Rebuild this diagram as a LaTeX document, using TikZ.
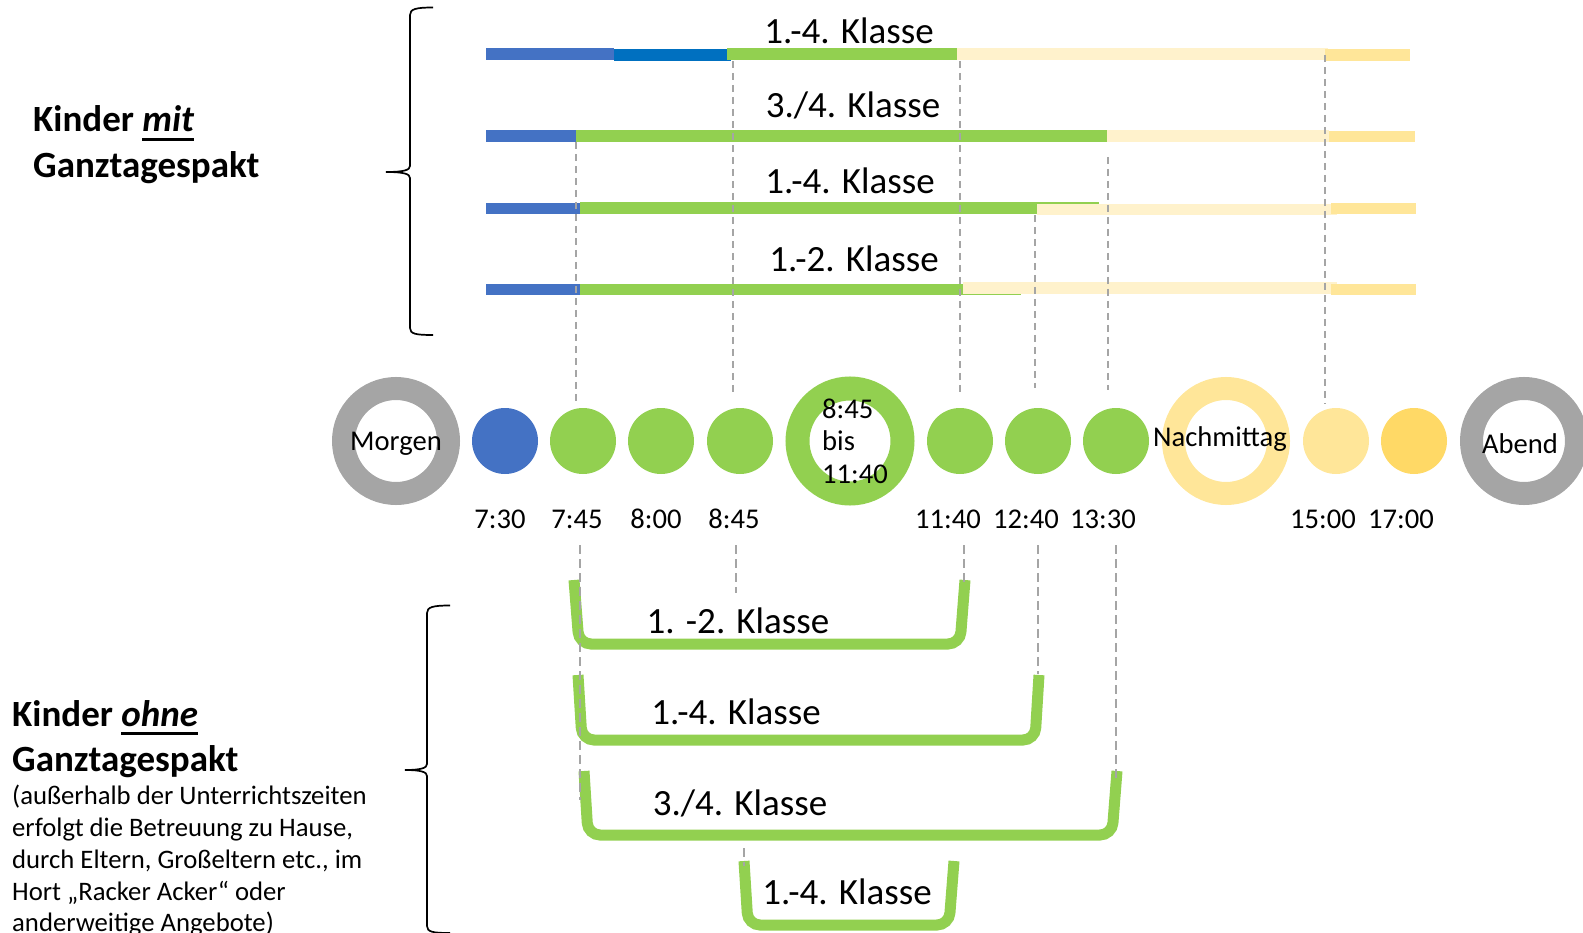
\documentclass[tikz,border=0pt]{standalone}
\usepackage{fontspec}
\setmainfont{Carlito}
\definecolor{cblue}{HTML}{4472C4}
\definecolor{cdblue}{HTML}{0070C0}
\definecolor{cgreen}{HTML}{92D050}
\definecolor{clyel}{HTML}{FFF2CC}
\definecolor{cyel}{HTML}{FFE699}
\definecolor{cgold}{HTML}{FFD966}
\definecolor{cgray}{HTML}{A5A5A5}
\newcommand\myul[1]{\setbox0\hbox{#1}\rlap{\rule[-9pt]{\wd0}{2.7pt}}\box0}
\newcommand\fsBig{\fontsize{37}{44}\selectfont}
\newcommand\fsMid{\fontsize{28.6}{34}\selectfont}
\newcommand\fsSmall{\fontsize{26.7}{31.6}\selectfont}
\begin{document}
\begin{tikzpicture}[x=1pt,y=-1pt,
  klasse/.style={font=\fsBig, inner sep=0pt, anchor=base},
  tlbl/.style={font=\fsMid, inner sep=0pt, anchor=base},
  head/.style={font=\fsBig\bfseries, inner sep=0pt, anchor=base west},
  note/.style={font=\fsSmall, inner sep=0pt, anchor=base west},
  dot/.style={circle, inner sep=0pt, minimum size=66pt},
  ring/.style={circle, inner sep=0pt, minimum size=105pt, line width=23pt},
  guide/.style={draw=cgray, line width=1.6pt, dash pattern=on 7pt off 5pt},
  lguide/.style={draw=cgray, line width=1.4pt, dash pattern=on 9pt off 5pt},
  tray/.style={draw=cgreen, line width=11pt, rounded corners=12pt},
  brc/.style={draw=black, line width=1.7pt}
]
\useasboundingbox (0,0) rectangle (1583,933);
\clip (0,0) rectangle (1583,933);

% ---------- top bars ----------
% row 1
\fill[cblue]  (486,48) rectangle (614,60);
\fill[cdblue] (614,49.5) rectangle (731,61);
\fill[cgreen] (727,48) rectangle (957,60);
\fill[clyel]  (957,48) rectangle (1328,60);
\fill[cyel]   (1325,49) rectangle (1410,61);
% row 2
\fill[cblue]  (486,130) rectangle (576,142);
\fill[cgreen] (576,130) rectangle (1107,142);
\fill[clyel]  (1107,130) rectangle (1329,142);
\fill[cyel]   (1329,131) rectangle (1415,142.5);
% row 3
\fill[cblue]  (486,203) rectangle (580,214);
\fill[cgreen] (580,202) rectangle (1099,214);
\fill[clyel]  (1037,204) rectangle (1337,215.5);
\fill[cyel]   (1331,203) rectangle (1416,214.5);
% row 4
\fill[cblue]  (486,284) rectangle (580,295);
\fill[cgreen] (580,284) rectangle (1021,295.5);
\fill[clyel]  (963,282.5) rectangle (1337,294.5);
\fill[cyel]   (1331,284) rectangle (1416,295.5);

\node[klasse] (k1) at (849,44) {1.-4. Klasse};
\node[klasse] (k2) at (853,118) {3./4. Klasse};
\node[klasse] (k3) at (850,194) {1.-4. Klasse};
\node[klasse] (k4) at (854,272) {1.-2. Klasse};

% ---------- circles ----------
\node[ring, draw=cgray] (morgen) at (396,441) {};
\node[dot, fill=cblue] (c730) at (505,441) {};
\node[dot, fill=cgreen] (c745) at (583,441) {};
\node[dot, fill=cgreen] (c800) at (661,441) {};
\node[dot, fill=cgreen] (c845) at (740,441) {};
\node[ring, draw=cgreen, line width=24pt] (unt) at (850,441) {};
\node[dot, fill=cgreen] (c1140) at (960,441) {};
\node[dot, fill=cgreen] (c1240) at (1038,441) {};
\node[dot, fill=cgreen] (c1330) at (1116,441) {};
\node[ring, draw=cyel] (nachm) at (1226,441) {};
\node[dot, fill=cyel] (c1500) at (1336,441) {};
\node[dot, fill=cgold] (c1700) at (1414,441) {};
\node[ring, draw=cgray] (abend) at (1524,441) {};

\node[tlbl] (lmorgen) at (396,450) {Morgen};
\node[tlbl] (lnachm) at (1220,446) {Nachmittag};
\node[tlbl] (labend) at (1520,453) {Abend};
\node[tlbl, anchor=base west] (lu1) at (822,418) {8:45};
\node[tlbl, anchor=base west] (lu2) at (822,450) {bis};
\node[tlbl, anchor=base west] (lu3) at (822,483) {11:40};

\node[tlbl] (t1) at (500,528) {7:30};
\node[tlbl] (t2) at (577,528) {7:45};
\node[tlbl] (t3) at (656,528) {8:00};
\node[tlbl] (t4) at (734,528) {8:45};
\node[tlbl] (t5) at (948,528) {11:40};
\node[tlbl] (t6) at (1026,528) {12:40};
\node[tlbl] (t7) at (1103,528) {13:30};
\node[tlbl] (t8) at (1323,528) {15:00};
\node[tlbl] (t9) at (1401,528) {17:00};

% ---------- top guides ----------
\draw[guide] (576,142) -- (576,404);
\draw[guide] (733,61) -- (733,394);
\draw[guide] (960,61) -- (960,392);
\draw[guide] (1035,215) -- (1035,388);
\draw[guide] (1108,157) -- (1108,390);
\draw[guide] (1325,55) -- (1325,404);

% ---------- brackets ----------
\draw[tray] (574,580) -- (579,644) -- (960,644) -- (965,580);
\draw[tray] (578,675) -- (582,740) -- (1035,740) -- (1039,675);
\draw[tray] (584,771) -- (588,835) -- (1112,835) -- (1117,771);
\draw[tray] (744,861) -- (748,925) -- (949,925) -- (954,861);

\node[klasse] (b1) at (738,633) {1. -2. Klasse};
\node[klasse] (b2) at (736,724) {1.-4. Klasse};
\node[klasse] (b3) at (740,815) {3./4. Klasse};
\node[klasse] (b4) at (847,904) {1.-4. Klasse};

% ---------- lower guides ----------
\draw[lguide] (580,545) -- (580,800);
\draw[lguide] (736,545) -- (736,593);
\draw[lguide] (964,545) -- (964,582);
\draw[lguide] (1038,545) -- (1038,674);
\draw[lguide] (1116,545) -- (1116,778);
\draw[lguide] (744,848) -- (744,866);

% ---------- braces ----------
\draw[brc] (433,7.5) .. controls (416,7.5) and (410,9) .. (410,15) -- (410,166)
  .. controls (410,170) and (404,172) .. (386,172)
  .. controls (404,172) and (410,174) .. (410,178) -- (410,328)
  .. controls (410,334) and (416,335) .. (433,335);
\draw[brc] (450,605.5) .. controls (433,605.5) and (427,607) .. (427,613) -- (427,764)
  .. controls (427,768) and (421,770) .. (405,770)
  .. controls (421,770) and (427,772) .. (427,776) -- (427,926)
  .. controls (427,932) and (433,933) .. (450,933);

% ---------- left texts ----------
\node[head] (mit1) at (33,132) {Kinder \myul{\textit{mit}}};
\node[head] (mit2) at (33,178) {Ganztagespakt};
\node[head] (ohne1) at (12,726) {Kinder \myul{\textit{ohne}}};
\node[head] (ohne2) at (12,771) {Ganztagespakt};
\node[note] (n1) at (12,804) {(außerhalb der Unterrichtszeiten};
\node[note] (n2) at (12,836) {erfolgt die Betreuung zu Hause,};
\node[note] (n3) at (12,868) {durch Eltern, Großeltern etc., im};
\node[note] (n4) at (12,900) {Hort „Racker Acker“ oder};
\node[note] (n5) at (12,931) {anderweitige Angebote)};
\end{tikzpicture}
\end{document}
